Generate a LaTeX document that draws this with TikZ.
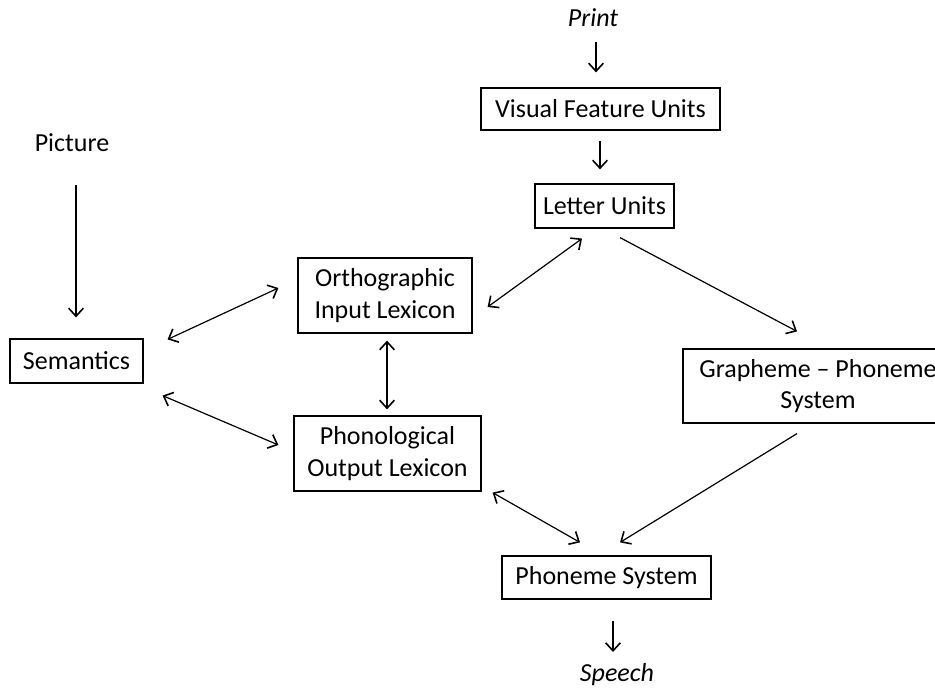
\documentclass[tikz,border=0pt]{standalone}
\usepackage{fontspec}
\setmainfont{Carlito}
\usetikzlibrary{arrows.meta}

\tikzset{
  >={Straight Barb[length=6pt,width=11pt,line width=1.2pt]},
  box/.style={draw, line width=0.9pt, align=center, inner sep=0pt},
  arr/.style={line width=0.9pt, ->},
  darr/.style={line width=0.9pt, <->}
}

\begin{document}
\begin{tikzpicture}[x=0.75pt,y=-0.75pt]
  \fontsize{19.5}{23.5}\selectfont

  \def\u{0.75pt}

  \useasboundingbox (0,0) rectangle (935,688);

  % inputs and output
  \node (print) at (593,18) {\itshape Print};
  \node (picture) at (72,143) {Picture};
  \node (speech) at (617,675) {\itshape Speech};

  % boxes
  \node[box, minimum width=239*\u, minimum height=42*\u] (vfu) at (600.5,109) {Visual Feature Units};
  \node[box, minimum width=139*\u, minimum height=44*\u] (letter) at (604.5,206) {Letter Units};
  \node[box, minimum width=133*\u, minimum height=44*\u] (sem) at (76.5,361) {Semantics};
  \node[box, minimum width=174*\u, minimum height=75*\u] (orth) at (385,295.5) {Orthographic\\Input Lexicon};
  \node[box, minimum width=187*\u, minimum height=75*\u] (phon) at (387.5,453.5) {Phonological\\Output Lexicon};
  \node[box, minimum width=270*\u, minimum height=74*\u] (gp) at (818,386) {Grapheme -- Phoneme\\System};
  \node[box, minimum width=209*\u, minimum height=43*\u] (ps) at (606.5,577.5) {Phoneme System};

  % arrows
  \draw[arr] ([shift={(3,24)}]print.center) -- ([shift={(-4.5,-15)}]vfu.north);
  \draw[arr] ([shift={(-0.5,10)}]vfu.south) -- ([shift={(-4.5,-14)}]letter.north);
  \draw[arr] ([shift={(4,42)}]picture.center) -- ([shift={(-0.5,-21)}]sem.north);
  \draw[darr] ([shift={(24,1)}]sem.north east) -- ([shift={(-19,-7.5)}]orth.west);
  \draw[darr] ([shift={(19,12)}]sem.south east) -- ([shift={(-15,-8.5)}]phon.west);
  \draw[darr] ([shift={(2,7)}]orth.south) -- ([shift={(-0.5,-6)}]phon.north);
  \draw[darr] ([shift={(-22.5,10)}]letter.south) -- ([shift={(15,11.5)}]orth.east);
  \draw[arr] ([shift={(15.5,9)}]letter.south) -- ([shift={(-21,-17)}]gp.north);
  \draw[arr] ([shift={(-21,10)}]gp.south) -- ([shift={(13.5,-13)}]ps.north);
  \draw[darr] ([shift={(11,1)}]phon.south east) -- ([shift={(-26.5,-13)}]ps.north);
  \draw[arr] ([shift={(6.5,21)}]ps.south) -- ([shift={(-4,-23)}]speech.center);

\end{tikzpicture}
\end{document}
